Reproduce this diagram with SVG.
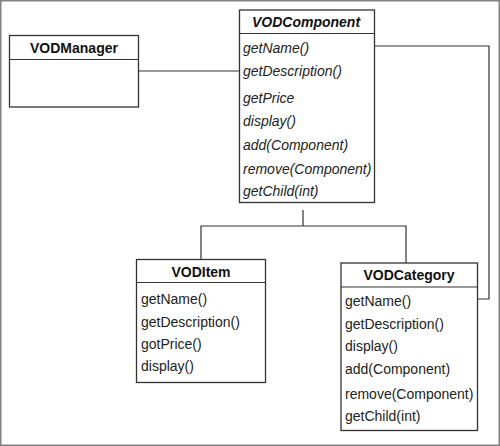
<svg xmlns="http://www.w3.org/2000/svg" width="500" height="446" viewBox="0 0 500 446">
<style>
.box{fill:#fff;stroke:#333;stroke-width:1.3}
.div{stroke:#333;stroke-width:1.2}
.t{font-family:"Liberation Sans",Arial,sans-serif;font-size:14px;font-weight:bold;fill:#111;text-anchor:middle}
.m{font-family:"Liberation Sans",Arial,sans-serif;font-size:14px;fill:#222}
.i{font-style:italic}
.c{fill:none;stroke:#333;stroke-width:1.2}
</style>
<rect x="0.75" y="0.75" width="498.5" height="444.5" fill="#fff" stroke="#808080" stroke-width="1.5"/>
<g id="connectors">
<path class="c" d="M139 71H239"/>
<path class="c" d="M375 46H489V299H478"/>
<path class="c" d="M303 210V226M201 259V226H406V263"/>
</g>
<g id="VODManager">
<rect class="box" x="9.5" y="35.5" width="129" height="71.5"/>
<line class="div" x1="9.5" y1="59.5" x2="138.5" y2="59.5"/>
<text class="t" x="74" y="53">VODManager</text>
</g>
<g id="VODComponent">
<rect class="box" x="239.5" y="10" width="135" height="192.5"/>
<line class="div" x1="239.5" y1="33.5" x2="374.5" y2="33.5"/>
<text class="t i" x="306" y="27">VODComponent</text>
<text class="m i" x="243" y="53">getName()</text>
<text class="m i" x="243" y="76">getDescription()</text>
<text class="m i" x="243" y="103">getPrice</text>
<text class="m i" x="243" y="126">display()</text>
<text class="m i" x="243" y="150">add(Component)</text>
<text class="m i" x="243" y="174">remove(Component)</text>
<text class="m i" x="243" y="196">getChild(int)</text>
</g>
<g id="VODItem">
<rect class="box" x="136.5" y="259.5" width="129" height="123"/>
<line class="div" x1="136.5" y1="282.5" x2="265.5" y2="282.5"/>
<text class="t" x="201" y="277">VODItem</text>
<text class="m" x="141" y="304">getName()</text>
<text class="m" x="141" y="327">getDescription()</text>
<text class="m" x="141" y="349">gotPrice()</text>
<text class="m" x="141" y="371">display()</text>
</g>
<g id="VODCategory">
<rect class="box" x="341" y="263" width="136.5" height="167.5"/>
<line class="div" x1="341" y1="287" x2="477.5" y2="287"/>
<text class="t" x="409" y="280">VODCategory</text>
<text class="m" x="345" y="306">getName()</text>
<text class="m" x="345" y="329">getDescription()</text>
<text class="m" x="345" y="351">display()</text>
<text class="m" x="345" y="374">add(Component)</text>
<text class="m" x="345" y="399">remove(Component)</text>
<text class="m" x="345" y="421">getChild(int)</text>
</g>
</svg>
